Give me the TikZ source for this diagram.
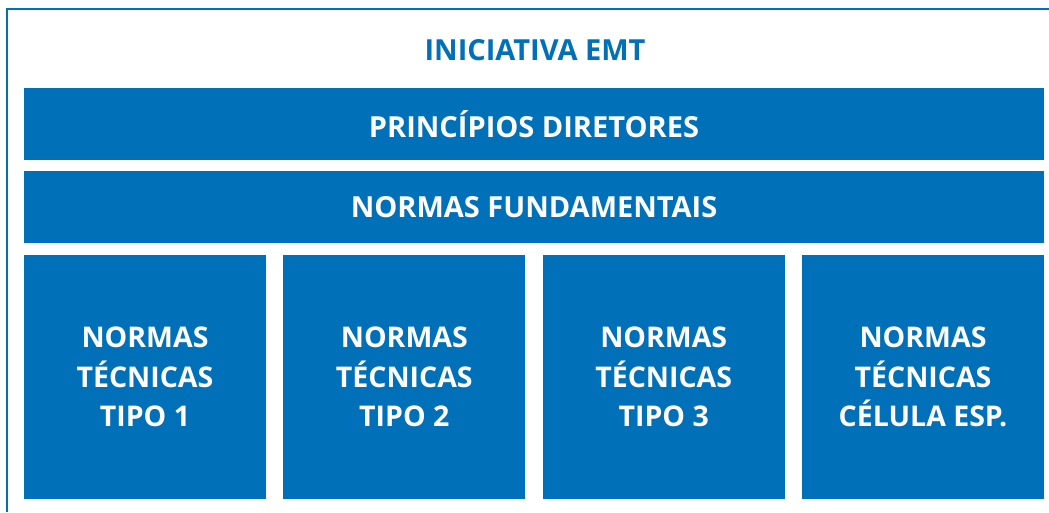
\documentclass[tikz,border=0pt]{standalone}
\usepackage{fontspec}
\setmainfont{Open Sans}
\definecolor{emtblue}{RGB}{0,112,185}
\begin{document}
\begin{tikzpicture}[x=1pt,y=-1pt,
  band/.style={fill=emtblue,draw=none,inner sep=0pt,text=white,font=\bfseries\fontsize{29}{34}\selectfont},
  col/.style={fill=emtblue,draw=none,inner sep=0pt,text=white,align=center,font=\bfseries\fontsize{28.5}{39.5}\selectfont}]
\useasboundingbox (0,0) rectangle (1049,512);
\draw[emtblue,line width=2.5pt] (7,512) -- (7,9) -- (1049,9);
\node[text=emtblue,font=\bfseries\fontsize{29}{34}\selectfont] (title) at (535,50) {INICIATIVA EMT};
\node[band,minimum width=1020pt,minimum height=72pt] (pd) at (534,124) {PRINCÍPIOS DIRETORES};
\node[band,minimum width=1020pt,minimum height=72pt] (nf) at (534,207) {NORMAS FUNDAMENTAIS};
\node[col,minimum width=242pt,minimum height=244pt] (c1) at (145,377) {NORMAS\\TÉCNICAS\\TIPO 1};
\node[col,minimum width=242pt,minimum height=244pt] (c2) at (404.3,377) {NORMAS\\TÉCNICAS\\TIPO 2};
\node[col,minimum width=242pt,minimum height=244pt] (c3) at (663.7,377) {NORMAS\\TÉCNICAS\\TIPO 3};
\node[col,minimum width=242pt,minimum height=244pt] (c4) at (923,377) {NORMAS\\TÉCNICAS\\CÉLULA ESP.};
\end{tikzpicture}
\end{document}
